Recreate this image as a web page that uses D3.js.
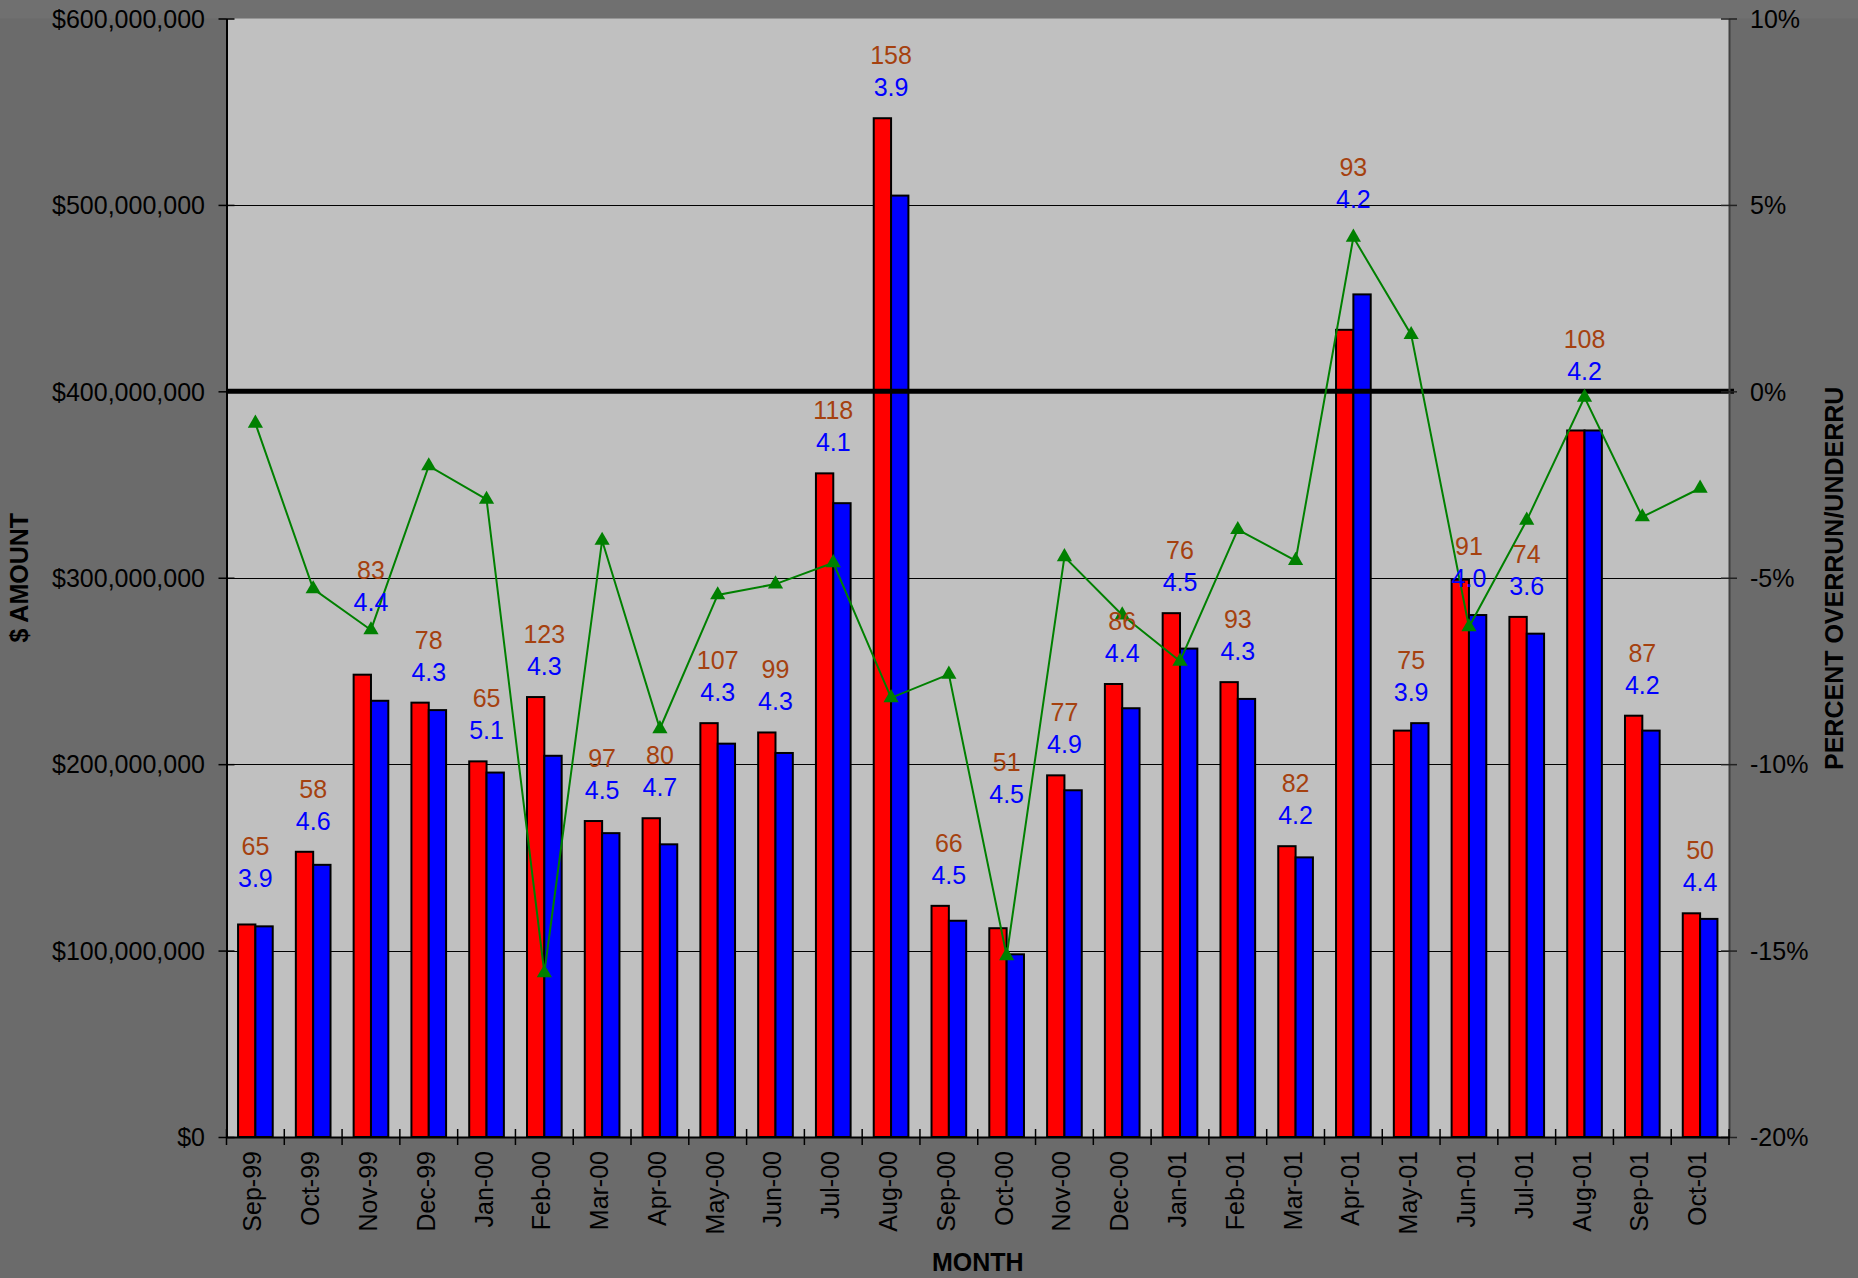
<!DOCTYPE html>
<html>
<head>
<meta charset="utf-8">
<script src="https://cdn.jsdelivr.net/npm/d3@7/dist/d3.min.js"></script>
<style>
  html, body { margin: 0; padding: 0; background: #6b6b6b; }
  svg { display: block; }
  text { font-family: "Liberation Sans", Arial, sans-serif; }
</style>
</head>
<body>
<svg id="chart" width="1858" height="1278"></svg>
<script>
// ---------- DATA ----------
const months = ["Sep-99","Oct-99","Nov-99","Dec-99","Jan-00","Feb-00","Mar-00","Apr-00","May-00","Jun-00","Jul-00","Aug-00","Sep-00","Oct-00","Nov-00","Dec-00","Jan-01","Feb-01","Mar-01","Apr-01","May-01","Jun-01","Jul-01","Aug-01","Sep-01","Oct-01"];
// red series ($)
const redValues = [114e6,153e6,248e6,233e6,201.5e6,236e6,169.5e6,171e6,222e6,217e6,356e6,546.5e6,124e6,112e6,194e6,243e6,281e6,244e6,156e6,433e6,218e6,299e6,279e6,379e6,226e6,120e6];
// blue series ($)
const blueValues = [113e6,146e6,234e6,229e6,195.5e6,204.5e6,163e6,157e6,211e6,206e6,340e6,505e6,116e6,98e6,186e6,230e6,262e6,235e6,150e6,452e6,222e6,280e6,270e6,379e6,218e6,117e6];
// green line: percent overrun/underrun
const pctValues = [-0.0086,-0.053,-0.064,-0.020,-0.029,-0.156,-0.040,-0.0905,-0.0546,-0.0517,-0.046,-0.0822,-0.0759,-0.1514,-0.0444,-0.060,-0.0724,-0.0371,-0.0454,0.0413,0.0152,-0.0632,-0.0346,-0.0016,-0.0337,-0.026];
// data labels
const countLabels = [65,58,83,78,65,123,97,80,107,99,118,158,66,51,77,86,76,93,82,93,75,91,74,108,87,50];
const rateLabels = [3.9,4.6,4.4,4.3,5.1,4.3,4.5,4.7,4.3,4.3,4.1,3.9,4.5,4.5,4.9,4.4,4.5,4.3,4.2,4.2,3.9,4.0,3.6,4.2,4.2,4.4];
// label anchors ($) for labels that sit away from their bars
const labelAnchorOverride = {"Nov-99": 287e6, "Oct-00": 184e6, "Apr-01": 503e6, "Jun-01": 300e6, "Aug-01": 411e6, "Sep-99": 139e6};
const leftTicks = [0,100e6,200e6,300e6,400e6,500e6,600e6];
const rightTicks = [-0.20,-0.15,-0.10,-0.05,0,0.05,0.10];

// ---------- LAYOUT ----------
const W = 1858, H = 1278;
const X0 = 226.5, X1 = 1729, Y0 = 18.5, Y1 = 1137;
const FS = 25;

const svg = d3.select("#chart");

const x = d3.scaleBand().domain(months).range([X0, X1]).padding(0);
const bw = x.bandwidth();
const inner = d3.scaleBand().domain(["red","blue"]).range([bw*0.2, bw*0.8]).padding(0);
const y = d3.scaleLinear().domain([0, 600e6]).range([Y1, Y0]);
const yR = d3.scaleLinear().domain([-0.20, 0.10]).range([Y1, Y0]);

// backgrounds
svg.append("rect").attr("x",0).attr("y",0).attr("width",W).attr("height",H).attr("fill","#6b6b6b");
svg.append("rect").attr("x",0).attr("y",0).attr("width",W).attr("height",Y0).attr("fill","#707070");
svg.append("rect").attr("x",X0).attr("y",Y0).attr("width",X1-X0).attr("height",Y1-Y0).attr("fill","#c0c0c0");

// gridlines
svg.append("g").selectAll("line")
  .data(leftTicks.filter(d => d > 0 && d < 600e6))
  .join("line")
  .attr("x1", X0).attr("x2", X1)
  .attr("y1", d => Math.round(y(d)) + 0.5).attr("y2", d => Math.round(y(d)) + 0.5)
  .attr("stroke", "#000").attr("stroke-width", 1);

// bars
const rows = months.map((m,i) => ({m, red: redValues[i], blue: blueValues[i], pct: pctValues[i], c: countLabels[i], r: rateLabels[i]}));
const gBars = svg.append("g");
gBars.selectAll("rect.red").data(rows).join("rect")
  .attr("class","red")
  .attr("x", d => x(d.m) + inner("red"))
  .attr("width", inner.bandwidth())
  .attr("y", d => y(d.red))
  .attr("height", d => y(0) - y(d.red))
  .attr("fill", "#ff0000").attr("stroke", "#000").attr("stroke-width", 2);
gBars.selectAll("rect.blue").data(rows).join("rect")
  .attr("class","blue")
  .attr("x", d => x(d.m) + inner("blue"))
  .attr("width", inner.bandwidth())
  .attr("y", d => y(d.blue))
  .attr("height", d => y(0) - y(d.blue))
  .attr("fill", "#0000ff").attr("stroke", "#000").attr("stroke-width", 2);

// zero line (0%)
svg.append("line")
  .attr("x1", X0).attr("x2", X1 + 5)
  .attr("y1", yR(0)).attr("y2", yR(0))
  .attr("stroke", "#000").attr("stroke-width", 5);

// green line
const cx = d => x(d.m) + bw/2;
svg.append("path")
  .datum(rows)
  .attr("fill","none").attr("stroke","#008000").attr("stroke-width",2)
  .attr("d", d3.line().x(cx).y(d => yR(d.pct)));
svg.append("g").selectAll("path").data(rows).join("path")
  .attr("transform", d => `translate(${cx(d)},${yR(d.pct)})`)
  .attr("d", d3.symbol(d3.symbolTriangle, 100))
  .attr("fill","#008000");

// data labels
const gLab = svg.append("g").attr("font-size", FS).attr("text-anchor","middle");
const blueLabelY = d => (labelAnchorOverride[d.m] !== undefined)
  ? y(labelAnchorOverride[d.m])
  : y(Math.max(d.red, d.blue)) - 31;
gLab.selectAll("text.rate").data(rows).join("text")
  .attr("class","rate")
  .attr("x", cx).attr("y", d => blueLabelY(d) + 9)
  .attr("fill","#0000ff")
  .text(d => d.r.toFixed(1));
gLab.selectAll("text.count").data(rows).join("text")
  .attr("class","count")
  .attr("x", cx).attr("y", d => blueLabelY(d) - 32 + 9)
  .attr("fill","#a5410f")
  .text(d => d.c);

// left axis
const axL = svg.append("g").attr("transform", `translate(${X0},0)`)
  .call(d3.axisLeft(y).tickValues(leftTicks).tickSizeInner(8).tickSizeOuter(0).tickPadding(13.5)
    .tickFormat(d => "$" + d3.format(",")(d)));
axL.select(".domain").attr("stroke","#000").attr("stroke-width",2);
axL.selectAll(".tick line").attr("x1", 8).attr("stroke","#000").attr("stroke-width",1.5);
axL.selectAll(".tick text").attr("font-size", FS).attr("fill","#000").attr("font-family",'"Liberation Sans", Arial, sans-serif').attr("dy","0.35em");

// right axis
const axR = svg.append("g").attr("transform", `translate(${X1},0)`)
  .call(d3.axisRight(yR).tickValues(rightTicks).tickSizeInner(8).tickSizeOuter(0).tickPadding(13)
    .tickFormat(d => d3.format(".0%")(d)));
axR.select(".domain").attr("stroke","#404040").attr("stroke-width",2);
axR.selectAll(".tick line").attr("x1", -8).attr("stroke","#222").attr("stroke-width",1.5);
axR.selectAll(".tick text").attr("font-size", FS).attr("fill","#000").attr("font-family",'"Liberation Sans", Arial, sans-serif').attr("dy","0.35em")
  .text(d => (d < 0 ? "-" : "") + Math.round(Math.abs(d)*100) + "%");

// bottom axis
const axB = svg.append("g").attr("transform", `translate(0,${Y1})`)
  .call(d3.axisBottom(x).tickSize(0).tickPadding(0));
axB.select(".domain").attr("stroke","#000").attr("stroke-width",2);
axB.selectAll(".tick text")
  .attr("font-size", FS).attr("fill","#000").attr("font-family",'"Liberation Sans", Arial, sans-serif')
  .attr("transform","rotate(-90)")
  .attr("text-anchor","end")
  .attr("x", -14).attr("y", 6).attr("dy", 0);
// boundary ticks
svg.append("g").selectAll("line")
  .data(months.map(m => x(m)).concat([X1]))
  .join("line")
  .attr("x1", d => d).attr("x2", d => d)
  .attr("y1", Y1 - 8).attr("y2", Y1 + 8)
  .attr("stroke","#000").attr("stroke-width",1.5);

// axis titles
svg.append("text")
  .attr("transform", `translate(28,${(Y0+Y1)/2}) rotate(-90)`)
  .attr("text-anchor","middle").attr("font-size",FS).attr("font-weight","bold").attr("fill","#000")
  .text("$ AMOUNT");
svg.append("text")
  .attr("transform", `translate(1843,770) rotate(-90)`)
  .attr("text-anchor","start").attr("font-size",FS).attr("font-weight","bold").attr("fill","#000")
  .text("PERCENT OVERRUN/UNDERRU");
svg.append("text")
  .attr("x", (X0+X1)/2).attr("y", 1271)
  .attr("text-anchor","middle").attr("font-size",FS).attr("font-weight","bold").attr("fill","#000")
  .text("MONTH");
</script>
</body>
</html>
